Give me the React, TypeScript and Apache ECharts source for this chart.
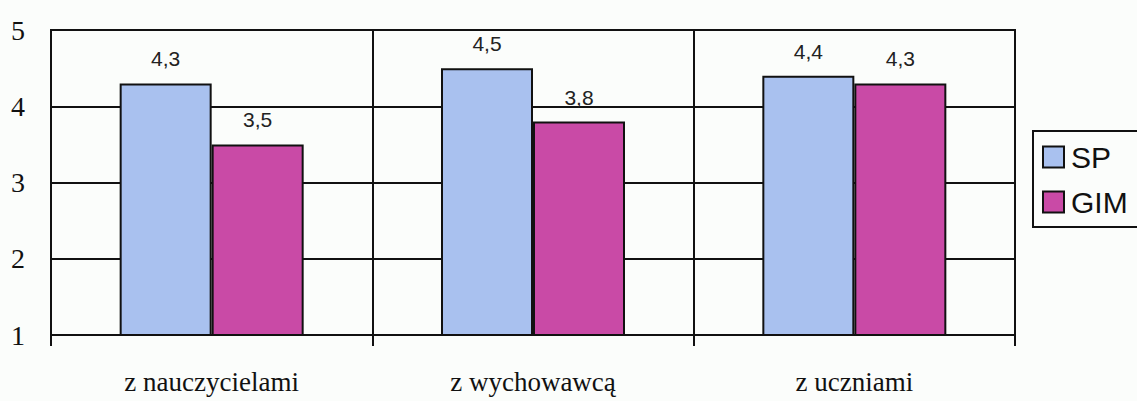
import React, { useEffect, useRef } from "react";
import * as echarts from "echarts";

const categories = ["z nauczycielami", "z wychowawcą", "z uczniami"];
const seriesNames = ["SP", "GIM"];
const spValues = [4.3, 4.5, 4.4];
const gimValues = [3.5, 3.8, 4.3];
const yTicks = [1, 2, 3, 4, 5];

export default function App() {
  const ref = useRef<HTMLDivElement>(null);
  useEffect(() => {
    if (!ref.current) return;
    const chart = echarts.init(ref.current, undefined, { renderer: "svg" });
    const labelCfg = {
      show: true,
      position: "top",
      distance: 14,
      fontFamily: "Liberation Sans, Arial, sans-serif",
      fontSize: 21,
      color: "#222",
      formatter: (p: any) => String(p.value).replace(".", ","),
    };
    chart.setOption({
      animation: false,
      backgroundColor: "#fbfdfb",
      grid: {
        left: 51,
        right: 122,
        top: 30,
        bottom: 66,
        show: true,
        borderColor: "#111",
        borderWidth: 2,
        backgroundColor: "transparent",
      },
      legend: {
        orient: "vertical",
        left: 1033,
        top: 131,
        data: seriesNames,
        borderColor: "#111",
        borderWidth: 2,
        borderRadius: 0,
        padding: [11, 30, 10, 9],
        itemWidth: 21,
        itemHeight: 21,
        itemGap: 15,
        icon: "rect",
        textStyle: {
          fontFamily: "Liberation Sans, Arial, sans-serif",
          fontSize: 30,
          color: "#111",
          padding: [0, 0, 0, 2],
        },
      },
      xAxis: {
        type: "category",
        data: categories,
        axisLine: { show: true, lineStyle: { color: "#111", width: 2 } },
        axisTick: { show: true, length: 11, lineStyle: { color: "#111", width: 2 } },
        splitLine: { show: true, lineStyle: { color: "#111", width: 2 } },
        axisLabel: {
          fontFamily: "Liberation Serif, Times New Roman, serif",
          fontSize: 27,
          color: "#111",
          margin: 33,
        },
      },
      yAxis: {
        type: "value",
        min: 1,
        max: 5,
        interval: 1,
        axisLine: { show: true, lineStyle: { color: "#111", width: 2 } },
        axisTick: { show: false },
        splitLine: { show: true, lineStyle: { color: "#111", width: 2 } },
        axisLabel: {
          fontFamily: "Liberation Serif, Times New Roman, serif",
          fontSize: 28,
          color: "#111",
          margin: 26,
          formatter: (v: number) => (yTicks.includes(v) ? String(v) : ""),
        },
      },
      series: [
        {
          name: seriesNames[0],
          type: "bar",
          data: spValues,
          barWidth: 92,
          barGap: "0%",
          itemStyle: { color: "#a9c1ef", borderColor: "#111", borderWidth: 2 },
          label: labelCfg,
        },
        {
          name: seriesNames[1],
          type: "bar",
          data: gimValues,
          barWidth: 92,
          barGap: "0%",
          itemStyle: { color: "#c94aa6", borderColor: "#111", borderWidth: 2 },
          label: labelCfg,
        },
      ],
    });
    return () => chart.dispose();
  }, []);
  return (
    <div
      ref={ref}
      style={{ position: "fixed", left: 0, top: 0, width: 1137, height: 401 }}
    />
  );
}
